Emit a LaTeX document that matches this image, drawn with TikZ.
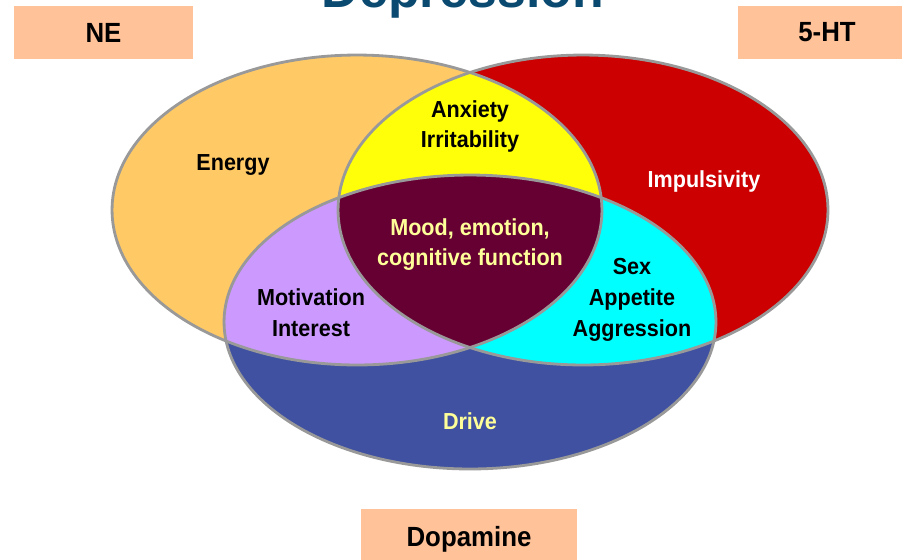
\documentclass[tikz,border=0pt]{standalone}
\usepackage{fontspec}
\setmainfont{Liberation Sans}
\newfontfamily\labelfont[FakeStretch=0.93]{Liberation Sans}

\definecolor{neorange}{HTML}{FFCA66}
\definecolor{htred}{HTML}{CC0000}
\definecolor{dablue}{HTML}{3F51A0}
\definecolor{anxyellow}{HTML}{FFFF0A}
\definecolor{motpurple}{HTML}{CC99FF}
\definecolor{sexcyan}{HTML}{00FFFF}
\definecolor{mooddark}{HTML}{660033}
\definecolor{boxsalmon}{HTML}{FFC299}
\definecolor{edgegray}{HTML}{999999}
\definecolor{titleblue}{HTML}{0B4A70}
\definecolor{paleyellow}{HTML}{FFFF99}

\newcommand{\nepath}{(357,210) ellipse [x radius=4.9cm, y radius=3.1cm]}
\newcommand{\htpath}{(583,210) ellipse [x radius=4.9cm, y radius=3.1cm]}
\newcommand{\dapath}{(470,322) ellipse [x radius=4.92cm, y radius=2.94cm]}

\begin{document}
\begin{tikzpicture}[
        x = .02cm,
        y = -.02cm,
        lbl/.style = {font=\labelfont\bfseries\fontsize{13.2}{17.5}\selectfont,
            align=center, inner sep=0pt},
        namebox/.style = {fill=boxsalmon, minimum width=3.58cm, minimum height=1.06cm,
            font=\labelfont\bfseries\fontsize{15.8}{19}\selectfont, inner sep=0pt},
        rim/.style = {draw=edgegray, line width=1.6pt}
    ]
        \useasboundingbox (0,0) rectangle (902,559);

        \node[anchor=base, text=titleblue, font=\bfseries\fontsize{29.5}{34}\selectfont]
            (title) at (463,7) {Depression};

        \fill[neorange] \nepath;
        \fill[htred] \htpath;
        \fill[dablue] \dapath;
        \begin{scope}
            \clip \nepath;
            \fill[anxyellow] \htpath;
            \fill[motpurple] \dapath;
        \end{scope}
        \begin{scope}
            \clip \htpath;
            \fill[sexcyan] \dapath;
            \clip \nepath;
            \fill[mooddark] \dapath;
        \end{scope}
        \draw[rim] \nepath;
        \draw[rim] \htpath;
        \draw[rim] \dapath;

        \node[namebox] (ne) at (103.5,32.5) {NE};
        \node[namebox] (ht) at (827,32.5) {5-HT};
        \node[namebox, minimum width=4.32cm, minimum height=1.2cm] (da) at (469,539) {Dopamine};

        \node[lbl] (energy) at (233,165) {Energy};
        \node[lbl] (anxiety) at (470,126.5) {Anxiety\\Irritability};
        \node[lbl, text=white] (impulsivity) at (704,181) {Impulsivity};
        \node[lbl, text=paleyellow] (mood) at (470,244.5) {Mood, emotion,\\cognitive function};
        \node[lbl] (motivation) at (311,313) {Motivation\\Interest};
        \node[lbl] (sex) at (632,300) {Sex\\Appetite\\Aggression};
        \node[lbl, text=paleyellow] (drive) at (470,421) {Drive};
    \end{tikzpicture}
\end{document}
